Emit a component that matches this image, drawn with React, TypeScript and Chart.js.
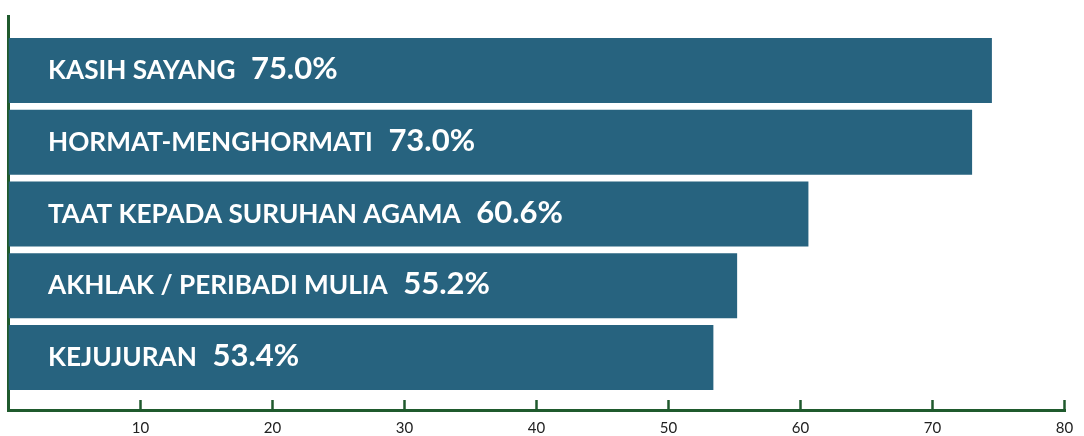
import React, { useEffect, useRef } from "react";
import { Chart, registerables } from "chart.js";

Chart.register(...registerables);

const categories = [
  "KASIH SAYANG",
  "HORMAT-MENGHORMATI",
  "TAAT KEPADA SURUHAN AGAMA",
  "AKHLAK / PERIBADI MULIA",
  "KEJUJURAN",
];
const values = [74.5, 73.0, 60.6, 55.2, 53.4];
const valueLabels = ["75.0%", "73.0%", "60.6%", "55.2%", "53.4%"];
const tickValues = [10, 20, 30, 40, 50, 60, 70, 80];
const tickLabels = ["10", "20", "30", "40", "50", "60", "70", "80"];

const BAR_COLOR = "#27637f";
const AXIS_COLOR = "#1f5a2d";

const axisPlugin = {
  id: "customAxis",
  beforeDatasetsDraw(chart: any) {
    const ctx = chart.ctx;
    const x = chart.scales.x;
    const x0 = x.getPixelForValue(0);
    const x80 = x.getPixelForValue(80);
    const axisY = 410.5;
    ctx.save();
    ctx.strokeStyle = AXIS_COLOR;
    ctx.lineWidth = 3;
    ctx.beginPath();
    ctx.moveTo(x0, 15);
    ctx.lineTo(x0, axisY + 1.5);
    ctx.stroke();
    ctx.beginPath();
    ctx.moveTo(x0 - 1.5, axisY);
    ctx.lineTo(x80 + 1.5, axisY);
    ctx.stroke();
    ctx.lineWidth = 2.5;
    tickValues.forEach((v) => {
      const px = x.getPixelForValue(v);
      ctx.beginPath();
      ctx.moveTo(px, 400);
      ctx.lineTo(px, axisY);
      ctx.stroke();
    });
    ctx.fillStyle = "#222";
    ctx.font = "15px Lato";
    ctx.textAlign = "center";
    ctx.textBaseline = "alphabetic";
    tickValues.forEach((v, i) => {
      const px = x.getPixelForValue(v);
      ctx.fillText(tickLabels[i], px, 433);
    });
    ctx.restore();
  },
  afterDatasetsDraw(chart: any) {
    const ctx = chart.ctx;
    const meta = chart.getDatasetMeta(0);
    const x0 = chart.scales.x.getPixelForValue(0);
    ctx.save();
    ctx.fillStyle = "#ffffff";
    ctx.textBaseline = "alphabetic";
    ctx.textAlign = "left";
    meta.data.forEach((bar: any, i: number) => {
      const baseY = bar.y + 8.5;
      const startX = x0 + 39.5;
      ctx.font = "bold 26.2px Lato";
      ctx.fillText(categories[i], startX, baseY);
      const w = ctx.measureText(categories[i]).width;
      ctx.font = "bold 31px Lato";
      ctx.fillText(valueLabels[i], startX + w + 15.5, baseY);
    });
    ctx.restore();
  },
};

export default function App() {
  const ref = useRef<HTMLCanvasElement | null>(null);
  useEffect(() => {
    if (!ref.current) return;
    const chart = new Chart(ref.current, {
      type: "bar",
      data: {
        labels: categories,
        datasets: [
          {
            data: values,
            backgroundColor: BAR_COLOR,
            borderWidth: 0,
            barPercentage: 0.906,
            categoryPercentage: 1,
          },
        ],
      },
      options: {
        indexAxis: "y",
        animation: false,
        responsive: false,
        layout: { padding: { left: 8.5, right: 19.5, top: 34.6, bottom: 42.6 } },
        plugins: { legend: { display: false }, tooltip: { enabled: false } },
        scales: {
          x: { type: "linear", min: 0, max: 80, display: false },
          y: { type: "category", display: false },
        },
      },
      plugins: [axisPlugin],
    });
    return () => chart.destroy();
  }, []);
  return (
    <div style={{ position: "fixed", left: 0, top: 0, width: 1084, height: 436, background: "#fff" }}>
      <canvas ref={ref} width={1084} height={436} />
    </div>
  );
}
